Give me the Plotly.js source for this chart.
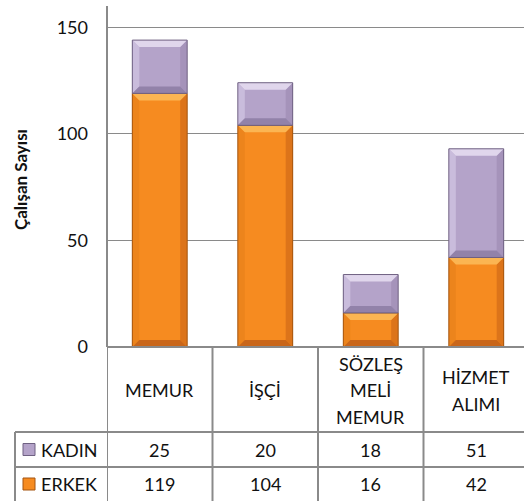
<!DOCTYPE html>
<html>
<head>
<meta charset="utf-8">
<script src="https://cdn.plot.ly/plotly-3.0.1.min.js"></script>
<style>
  html, body { margin: 0; padding: 0; background: #fff; }
  #chart { width: 524px; height: 501px; }
</style>
</head>
<body>
<div id="chart"></div>
<script>
// Personel dağılımı: kadro türüne göre kadın / erkek çalışan sayıları
const categories = [["MEMUR"], ["İŞÇİ"], ["SÖZLEŞ", "MELİ", "MEMUR"], ["HİZMET", "ALIMI"]];
const seriesNames = ["KADIN", "ERKEK"];
const erkek = [119, 104, 16, 42];
const kadin = [25, 20, 18, 51];
const yTicks = [0, 50, 100, 150];

// Layout geometry (pixels)
const W = 524, H = 501;
const M = { l: 107, r: 0, t: 6, b: 154 };
const catPx = 105.5;                 // width of one category column
const plotW = W - M.l - M.r;
const plotH = H - M.t - M.b;
const xMax = -0.5 + plotW / catPx;   // right edge runs off the page
const yMax = 160;
const barW = 0.52;
const bevelPx = 7;
const dx = bevelPx / catPx;
const dy = bevelPx * yMax / plotH;

const FONT = "Lato, 'Open Sans', sans-serif";
const GRID = "#8a8a8a";

const palette = {
  ERKEK: { fill: "#F68B20", top: "#FBB552", left: "#EC841C", right: "#DC741A", bottom: "#C9661A", edge: "#A45510" },
  KADIN: { fill: "#B4A3C9", top: "#E0D6EC", left: "#C9BCDC", right: "#A593BA", bottom: "#9282A9", edge: "#6F6182" }
};

const xs = categories.map((_, i) => i);

const traces = [
  { name: "ERKEK", type: "bar", x: xs, y: erkek, width: barW,
    marker: { color: palette.ERKEK.fill, line: { width: 0 } }, hoverinfo: "y" },
  { name: "KADIN", type: "bar", x: xs, y: kadin, width: barW,
    marker: { color: palette.KADIN.fill, line: { width: 0 } }, hoverinfo: "y" }
];

// Bevelled edges for every stacked segment, placed in data coordinates
const shapes = [];
function bevel(i, y0, y1, c) {
  const xl = i - barW / 2, xr = i + barW / 2;
  const h = Math.min(dy, (y1 - y0) / 2);
  const pts = {
    top: [[xl, y1], [xr, y1], [xr - dx, y1 - h], [xl + dx, y1 - h]],
    bottom: [[xl, y0], [xr, y0], [xr - dx, y0 + h], [xl + dx, y0 + h]],
    left: [[xl, y0], [xl, y1], [xl + dx, y1 - h], [xl + dx, y0 + h]],
    right: [[xr, y0], [xr, y1], [xr - dx, y1 - h], [xr - dx, y0 + h]]
  };
  ["left", "right", "bottom", "top"].forEach(k => {
    const p = pts[k];
    shapes.push({
      type: "path", xref: "x", yref: "y", layer: "above",
      path: "M" + p.map(q => q[0] + "," + q[1]).join(" L") + " Z",
      fillcolor: c[k], line: { width: 0 }
    });
  });
  shapes.push({ type: "rect", xref: "x", yref: "y", x0: xl, x1: xr, y0: y0, y1: y1,
    line: { color: c.edge, width: 1 }, fillcolor: "rgba(0,0,0,0)" });
}
xs.forEach(i => {
  bevel(i, 0, erkek[i], palette.ERKEK);
  bevel(i, erkek[i], erkek[i] + kadin[i], palette.KADIN);
});

// Data table under the plot
const pyPx = px => -(px - (M.t + plotH)) / plotH;   // page y (below plot) -> paper y
const headerBottom = 432, rowMid = 467, tableBottom = 503, tableLeft = 15;
const lineStyle = { color: GRID, width: 2 };
const xPaper = px => (px - M.l) / plotW;

// vertical column separators
for (let k = 0; k <= categories.length; k++) {
  shapes.push({ type: "line", xref: "x", yref: "paper", x0: k - 0.5, x1: k - 0.5,
    y0: 0, y1: pyPx(tableBottom), line: lineStyle });
}
// y axis line
shapes.push({ type: "line", xref: "paper", yref: "paper", x0: 0, x1: 0, y0: 0, y1: 1, line: lineStyle });
// x axis / header top
shapes.push({ type: "line", xref: "paper", yref: "paper", x0: 0, x1: 1, y0: 0, y1: 0, line: lineStyle });
// row borders
[headerBottom, rowMid].forEach(py => {
  shapes.push({ type: "line", xref: "paper", yref: "paper", x0: xPaper(tableLeft), x1: 1,
    y0: pyPx(py), y1: pyPx(py), line: lineStyle });
});
shapes.push({ type: "line", xref: "paper", yref: "paper", x0: xPaper(tableLeft), x1: xPaper(tableLeft),
  y0: pyPx(headerBottom), y1: pyPx(tableBottom), line: lineStyle });

const txt = { family: FONT, size: 18, color: "#111" };
const annotations = [];
const lineGap = 26.5;
const headerMid = (M.t + plotH + headerBottom) / 2 + 1;
categories.forEach((lines, i) => {
  lines.forEach((s, j) => {
    const py = headerMid + (j - (lines.length - 1) / 2) * lineGap;
    annotations.push({ x: i, xref: "x", y: pyPx(py), yref: "paper",
      text: s, showarrow: false, font: txt, xanchor: "center", yanchor: "middle" });
  });
});
const rows = [
  { name: seriesNames[0], vals: kadin, c: palette.KADIN, py: (headerBottom + rowMid) / 2 },
  { name: seriesNames[1], vals: erkek, c: palette.ERKEK, py: (rowMid + tableBottom) / 2 - 1 }
];
rows.forEach(r => {
  r.vals.forEach((v, i) => {
    annotations.push({ x: i, xref: "x", y: pyPx(r.py), yref: "paper", text: String(v),
      showarrow: false, font: txt, xanchor: "center", yanchor: "middle" });
  });
  annotations.push({ x: xPaper(39), xref: "paper", y: pyPx(r.py), yref: "paper", text: r.name,
    showarrow: false, font: txt, xanchor: "left", yanchor: "middle" });
  // legend key
  shapes.push({ type: "rect", xref: "paper", yref: "paper",
    x0: xPaper(23), x1: xPaper(35), y0: pyPx(r.py - 6), y1: pyPx(r.py + 6),
    fillcolor: r.c.fill, line: { color: r.c.edge, width: 1 } });
});
// axis title
annotations.push({ x: xPaper(20), xref: "paper", y: pyPx(180), yref: "paper", text: "<b>Çalışan Sayısı</b>",
  textangle: -90, showarrow: false, font: { family: FONT, size: 17, color: "#111" },
  xanchor: "center", yanchor: "middle" });

const layout = {
  width: W, height: H,
  margin: M,
  paper_bgcolor: "#fff", plot_bgcolor: "#fff",
  barmode: "stack",
  showlegend: false,
  font: txt,
  xaxis: { range: [-0.5, xMax], showticklabels: false, showgrid: false, zeroline: false,
    showline: false, ticks: "", fixedrange: true },
  yaxis: { range: [0, yMax], tickvals: yTicks, ticktext: yTicks.map(String),
    showgrid: true, gridcolor: GRID, gridwidth: 1, zeroline: false, showline: false,
    ticks: "", ticklabelstandoff: 18, tickfont: { family: FONT, size: 18, color: "#111" }, fixedrange: true },
  shapes: shapes,
  annotations: annotations
};

Plotly.newPlot("chart", traces, layout, { displayModeBar: false, staticPlot: true });
</script>
</body>
</html>
